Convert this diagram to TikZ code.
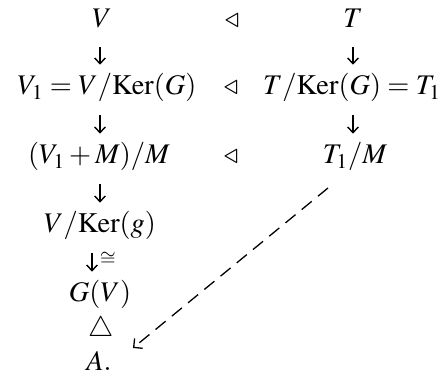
\documentclass[tikz,border=0pt]{standalone}
\usepackage{mathptmx}
\usetikzlibrary{arrows.meta}
\tikzset{
  m/.style={inner sep=0pt, anchor=base, font=\fontsize{14.2}{16}\selectfont, text height=9.5pt, text depth=2.5pt},
  lab/.style={inner sep=0pt, font=\fontsize{10}{11}\selectfont},
  arr/.style={line width=0.7pt, -{Straight Barb[length=2.8pt,width=5.4pt,line width=0.7pt]}, shorten <=7.5pt, shorten >=5.5pt},
  dsh/.style={line width=0.65pt, dash pattern=on 6.5pt off 4pt, -{Straight Barb[length=3.2pt,width=6.4pt,line width=0.65pt]}}
}
\begin{document}
\begin{tikzpicture}[x=0.5pt,y=-0.5pt]
\useasboundingbox (0,0) rectangle (447,375);
\coordinate (cl) at (100,0);
\coordinate (cr) at (353,0);
\coordinate (c4) at (92,0);
\node[m] (V) at (102,27) {$V$};
\node[m] (n1) at (232,27) {$\triangleleft$};
\node[m] (T) at (353,27) {$T$};
\node[m] (V1) at (107,95) {$V_1 = V/\mathrm{Ker}(G)$};
\node[m] (n2) at (231,95) {$\triangleleft$};
\node[m] (T1) at (352,95) {$T/\mathrm{Ker}(G) = T_1$};
\node[m] (VM) at (99,164) {$(V_1+M)/M$};
\node[m] (n3) at (231,164) {$\triangleleft$};
\node[m] (TM) at (355,164) {$T_1/M$};
\node[m] (Vg) at (100,233) {$V/\mathrm{Ker}(g)$};
\node[m] (GV) at (100,302) {$G(V)$};
\node[m] (D) at (101,337) {$\triangle$};
\node[m] (A) at (99,371) {$A.$};
\node[lab] (iso) at (108,259) {$\cong$};
\draw[arr] (V.south -| cl) -- (V1.north -| cl);
\draw[arr] (V1.south -| cl) -- (VM.north -| cl);
\draw[arr] (VM.south -| cl) -- (Vg.north -| cl);
\draw[arr] (Vg.south -| c4) -- (GV.north -| c4);
\draw[arr] (T.south -| cr) -- (T1.north -| cr);
\draw[arr] (T1.south -| cr) -- (TM.north -| cr);
\draw[dsh] ([shift={(-27,24)}]TM.base) -- ([shift={(34,-23)}]A.base);
\end{tikzpicture}
\end{document}
